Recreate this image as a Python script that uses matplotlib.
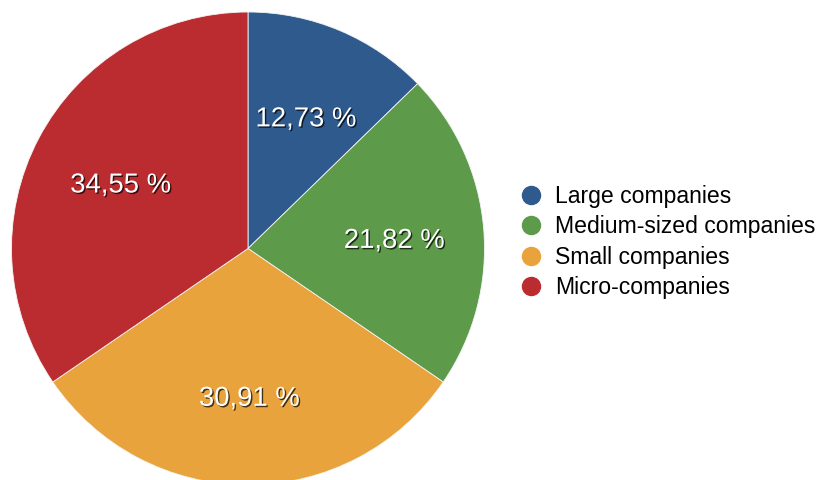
import matplotlib.pyplot as plt
import matplotlib.patheffects as pe
import matplotlib.transforms as mtransforms
from matplotlib.lines import Line2D

plt.rcParams['font.family'] = ['Liberation Sans', 'DejaVu Sans']

# company size shares (%)
categories = ['Large companies', 'Medium-sized companies', 'Small companies', 'Micro-companies']
shares = [12.73, 21.82, 30.91, 34.55]
colors = ['#2e5a8e', '#5d9a4a', '#e8a33d', '#bb2c30']

fig = plt.figure(figsize=(8.22, 4.8), dpi=100)
ax = fig.add_axes([0, 0, 1, 1])

wedges, texts, autotexts = ax.pie(
    shares, colors=colors, startangle=90, counterclock=False,
    center=(248, 231.5), radius=236.5,
    autopct=lambda p: f'{p:.2f} %'.replace('.', ','),
    pctdistance=0.615,
    wedgeprops=dict(edgecolor='#f4f4f4', linewidth=0.6),
    textprops=dict(color='white', fontsize=19.8),
)
shift = mtransforms.offset_copy(ax.transData, fig=fig, x=1, y=-3.5, units='points')
for t in autotexts:
    t.set_transform(shift)
    t.set_path_effects([pe.withSimplePatchShadow(offset=(1, -1), shadow_rgbFace='black', alpha=0.7)])

ax.set_xlim(0, 822)
ax.set_ylim(0, 480)
ax.set_aspect('auto')
ax.axis('off')

handles = [Line2D([], [], marker='o', linestyle='none', markersize=13,
                  markerfacecolor=c, markeredgecolor=c) for c in colors]
ax.legend(handles, categories, loc='center left', bbox_to_anchor=(519 / 822, 0.496),
          frameon=False, fontsize=16.6, handlelength=1.0, handletextpad=0.55,
          labelspacing=0.32, borderpad=0, borderaxespad=0)

plt.savefig('out.png', dpi=100)
